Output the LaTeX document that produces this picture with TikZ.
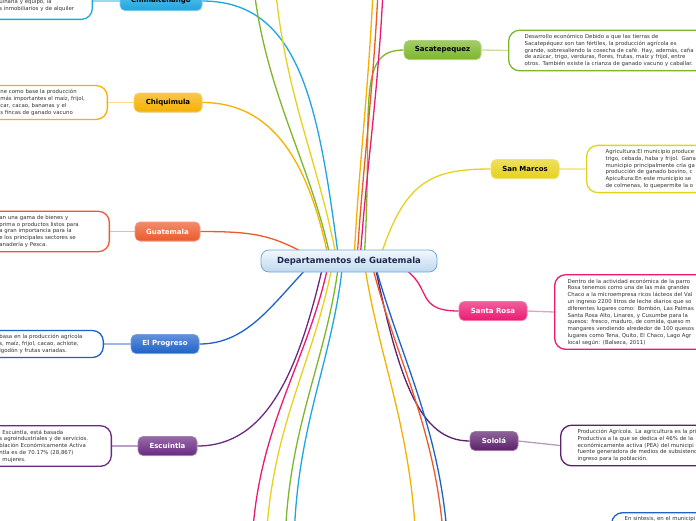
\documentclass[tikz,border=0pt]{standalone}
\usepackage{fontspec}
\setmainfont{DejaVu Sans}
\usetikzlibrary{positioning, backgrounds, shadows, calc}

\definecolor{hubtop}{HTML}{F2F8FD}
\definecolor{hubbot}{HTML}{BFD8EE}
\definecolor{hubline}{HTML}{6FA8DC}
\definecolor{hubtext}{HTML}{1D2B4F}
\definecolor{cSky}{HTML}{1FA5E0}
\definecolor{cGold}{HTML}{F5B000}
\definecolor{cRed}{HTML}{EC5A2B}
\definecolor{cBlue}{HTML}{1E62C8}
\definecolor{cPurple}{HTML}{6A2A82}
\definecolor{cGreen}{HTML}{7DB62A}
\definecolor{cYellow}{HTML}{E6D21C}
\definecolor{cPink}{HTML}{EA1A72}
\definecolor{cPlum}{HTML}{5C206C}
\definecolor{txt}{HTML}{333333}

\begin{document}
\begin{tikzpicture}[x=1pt, y=-1pt,
  hub/.style={rounded corners=8pt, draw=hubline, line width=0.8pt, top color=hubtop, bottom color=hubbot, minimum width=176pt, minimum height=22pt, font=\bfseries\fontsize{8.5}{10}\selectfont, text=hubtext},
  branch/.style={rounded corners=5pt, draw=#1!60!white, line width=0.6pt, top color=#1!70!white, bottom color=#1, minimum height=19pt, inner xsep=3pt, font=\bfseries\fontsize{7}{8}\selectfont, drop shadow={opacity=0.2, shadow xshift=0.6pt, shadow yshift=-0.8pt}},
  infobox/.style={draw=#1, line width=1.3pt, rounded corners=11pt, fill=white, align=left, font=\fontsize{5.4}{6.8}\selectfont, text=txt, inner ysep=4pt},
  link/.style={line width=1.3pt, draw=#1},
  stub/.style={line width=1.3pt, draw=#1!45!white}]

\useasboundingbox (0,0) rectangle (696,520);

\node[hub] (hub) at (349,261) {Departamentos de Guatemala};

% left side
\node[branch=cSky, minimum width=82pt, text=black] (chim) at (161,1) {Chimaltenango};
\node[branch=cGold, minimum width=68pt, text=black] (chiq) at (168,102.5) {Chiquimula};
\node[branch=cRed, minimum width=65pt, text=white] (guat) at (167.5,231.5) {Guatemala};
\node[branch=cBlue, minimum width=68pt, text=white] (prog) at (165,344) {El Progreso};
\node[branch=cPurple, minimum width=59pt, text=white] (escu) at (167.5,446) {Escuintla};

% right side
\node[branch=cGreen, minimum width=77pt, text=black] (saca) at (442.5,50) {Sacatepequez};
\node[branch=cYellow, minimum width=68pt, text=black] (smar) at (525,169) {San Marcos};
\node[branch=cPink, minimum width=68pt, text=white] (srosa) at (493,311) {Santa Rosa};
\node[branch=cPlum, minimum width=48pt, text=white] (solo) at (494,441) {Sololá};

% text boxes
\node[infobox=cSky, text width=79pt, inner xsep=14pt, anchor=south east] (chimtxt) at (93,20)
  {\rule{0pt}{14pt}uinaria y equipo, la\\s inmobiliarios y de alquiler\rule[-5pt]{0pt}{5pt}};
\node[infobox=cGold, text width=95pt, inner xsep=12pt, anchor=east] (chiqtxt) at (108,102.5)
  {ne como base la producción\\más importantes el maíz, frijol,\\car, cacao, bananas y el\\s fincas de ganado vacuno};
\node[infobox=cRed, text width=98pt, inner xsep=12pt, anchor=east] (guattxt) at (110,231.5)
  {an una gama de bienes y\\prima o productos listos para\\a gran importancia para la\\e los principales sectores se\\anadería y Pesca.};
\node[infobox=cBlue, text width=92pt, inner xsep=12pt, anchor=east] (progtxt) at (104,344)
  {basa en la producción agrícola\\s, maíz, frijol, cacao, achiote,\\lgodón y frutas variadas.};
\node[infobox=cPurple, text width=100pt, inner xsep=12pt, anchor=east] (escutxt) at (112,446)
  {\hspace{3pt}Escuintla, está basada\\s agroindustriales y de servicios.\\blación Económicamente Activa\\ntla es de 70.17\% (28,867)\\\hspace{3pt}mujeres.};

\node[infobox=cGreen, text width=190pt, inner xsep=16pt, anchor=west] (sacatxt) at (508,50.5)
  {Desarrollo económico Debido a que las tierras de\\Sacatepéquez son tan fértiles, la producción agrícola es\\grande, sobresaliendo la cosecha de café. Hay, además, caña\\de azúcar, trigo, verduras, flores, frutas, maíz y frijol, entre\\otros. También existe la crianza de ganado vacuno y caballar.};
\node[infobox=cYellow, text width=130pt, inner xsep=19pt, anchor=west] (smartxt) at (586,169)
  {Agricultura:El municipio produce\\trigo, cebada, haba y frijol. Gana\\municipio principalmente cría ga\\producción de ganado bovino, c\\Apicultura:En este municipio se\\de colmenas, lo quepermite la o};
\node[infobox=cPink, text width=160pt, inner xsep=13pt, anchor=west] (srosatxt) at (554,312)
  {Dentro de la actividad económica de la parro\\Rosa tenemos como una de las más grandes\\Chaco a la microempresa ricos lácteos del Val\\un ingreso 2200 litros de leche diarios que so\\diferentes lugares como: Bombón, Las Palmas\\Santa Rosa Alto, Linares, y Cusumbe para la\\quesos: fresco, maduro, de comida, queso m\\mangares vendiendo alrededor de 100 quesos\\lugares como Tena, Quito, El Chaco, Lago Agr\\local según: (Balseca, 2011)};
\node[infobox=cPlum, text width=160pt, inner xsep=17pt, anchor=west] (solotxt) at (560,445.5)
  {Producción Agrícola. La agricultura es la pri\\Productiva a la que se dedica el 46\% de la\\económicamente activa (PEA) del municipi\\fuente generadora de medios de subsistenc\\ingreso para la población.};
\node[infobox=cBlue, text width=120pt, inner xsep=13pt, anchor=north west] (sintxt) at (611,512)
  {En síntesis, en el municipi\rule[-20pt]{0pt}{0pt}};

% branches leaving the page
\coordinate (upA) at (252,-30);
\coordinate (upB) at (274,-30);
\coordinate (upC) at (374,-30);
\coordinate (upD) at (379,-30);
\coordinate (upE) at (384,-30);
\coordinate (dnA) at (252,545);
\coordinate (dnB) at (266,545);
\coordinate (dnC) at (285,545);
\coordinate (dnD) at (294,545);
\coordinate (dnE) at (416,545);
\coordinate (dnF) at (444,545);
\coordinate (dnG) at (448,545);

\begin{pgfonlayer}{background}
\draw[link=cSky] ($(hub.center)+(-10,0)$) .. controls +(-20,-150) and +(100,0) .. (chim.east);
\draw[link=cGold] ($(hub.center)+(-20,0)$) .. controls +(-20,-100) and +(70,0) .. (chiq.east);
\draw[link=cRed] ($(hub.center)+(-30,0)$) .. controls +(-45,-25) and +(60,0) .. (guat.east);
\draw[link=cBlue] ($(hub.center)+(-35,0)$) .. controls +(-40,40) and +(50,0) .. (prog.east);
\draw[link=cPurple] ($(hub.center)+(-25,0)$) .. controls +(-25,110) and +(70,0) .. (escu.east);
\draw[link=cGreen] ($(hub.center)+(15,0)$) .. controls +(10,-150) and +(-50,0) .. (saca.west);
\draw[link=cYellow] ($(hub.center)+(30,0)$) .. controls +(25,-80) and +(-60,0) .. (smar.west);
\draw[link=cPink] ($(hub.center)+(40,0)$) .. controls +(50,20) and +(-50,0) .. (srosa.west);
\draw[link=cPlum] ($(hub.center)+(25,0)$) .. controls +(25,120) and +(-50,0) .. (solo.west);

\draw[link=cGreen] ($(hub.center)+(-18,0)$) .. controls +(-20,-100) and +(10,120) .. (upA);
\draw[link=cYellow] ($(hub.center)+(-12,0)$) .. controls +(-18,-100) and +(8,120) .. (upB);
\draw[link=cGold] ($(hub.center)+(5,0)$) .. controls +(5,-100) and +(-5,120) .. (upC);
\draw[link=cRed] ($(hub.center)+(8,0)$) .. controls +(6,-100) and +(-5,120) .. (upD);
\draw[link=cPink] ($(hub.center)+(11,0)$) .. controls +(7,-100) and +(-5,120) .. (upE);
\draw[link=cPink] ($(hub.center)+(-20,0)$) .. controls +(-20,100) and +(5,-120) .. (dnA);
\draw[link=cYellow] ($(hub.center)+(-16,0)$) .. controls +(-18,100) and +(5,-120) .. (dnB);
\draw[link=cGreen] ($(hub.center)+(-10,0)$) .. controls +(-12,100) and +(3,-120) .. (dnC);
\draw[link=cSky] ($(hub.center)+(-6,0)$) .. controls +(-10,100) and +(2,-120) .. (dnD);
\draw[link=cGold] ($(hub.center)+(15,0)$) .. controls +(15,100) and +(-5,-120) .. (dnE);
\draw[link=cRed] ($(hub.center)+(22,0)$) .. controls +(25,100) and +(-8,-120) .. (dnF);
\draw[link=cBlue] ($(hub.center)+(25,0)$) .. controls +(27,100) and +(-8,-120) .. (dnG);

\draw[stub=cSky] (chim.west) -- (chim.west -| chimtxt.east);
\draw[stub=cGold] (chiq.west) -- (chiqtxt.east);
\draw[stub=cRed] (guat.west) -- (guattxt.east);
\draw[stub=cBlue] (prog.west) -- (progtxt.east);
\draw[stub=cPurple] (escu.west) -- (escutxt.east);
\draw[stub=cGreen] (saca.east) -- (sacatxt.west);
\draw[stub=cYellow] (smar.east) -- (smartxt.west);
\draw[stub=cPink] (srosa.east) -- (srosatxt.west);
\draw[stub=cPlum] (solo.east) -- (solotxt.west);
\end{pgfonlayer}
\end{tikzpicture}
\end{document}
